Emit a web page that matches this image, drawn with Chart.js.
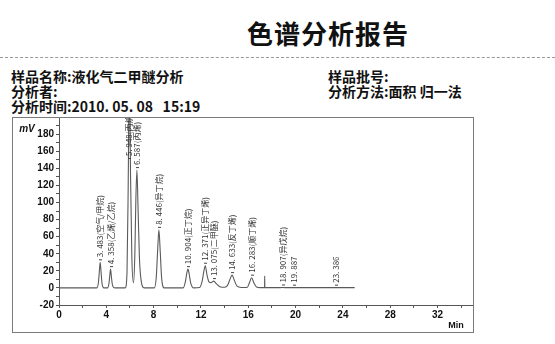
<!DOCTYPE html>
<html>
<head>
<meta charset="utf-8">
<script src="https://cdn.jsdelivr.net/npm/chart.js@4.4.1/dist/chart.umd.min.js"></script>
<style>
  html, body { margin:0; padding:0; background:#fff; }
  body { width:555px; height:344px; position:relative; overflow:hidden; font-family:"Noto Sans CJK SC", sans-serif; color:#111; }
  .t { position:absolute; white-space:pre; font-weight:bold; font-size:14px; line-height:14px; }
  #title { position:absolute; left:0; width:656px; top:19px; text-align:center; font-size:26px; line-height:28px; font-weight:bold; letter-spacing:1px; }
  #sep { position:absolute; left:0; width:555px; top:57px; border-top:1px dashed #9a9a9a; }
  #frame { position:absolute; left:12px; top:117px; width:462px; height:216px; border:1px solid #7a7a7a; box-sizing:border-box; }
  #c { position:absolute; left:0; top:0; }
</style>
</head>
<body>
<div id="title">色谱分析报告</div>
<div id="sep"></div>
<div class="t" style="left:11px; top:69px;">样品名称:液化气二甲醚分析</div>
<div class="t" style="left:11px; top:84px;">分析者:</div>
<div class="t" style="left:11px; top:99px;">分析时间:2010. 05. 08   15:19</div>
<div class="t" style="left:328px; top:69px;">样品批号:</div>
<div class="t" style="left:328px; top:84px;">分析方法:面积 归一法</div>
<div id="frame"><canvas id="c" width="460" height="214"></canvas></div>
<script>
// ---- data ----
const traceTime = [
  0, 3.2,
  3.33, 3.41, 3.483, 3.56, 3.64, 3.8,
  4.1, 4.22, 4.29, 4.358, 4.43, 4.51, 4.7,
  5.6, 5.75, 5.85, 5.948, 6.05, 6.16, 6.3,
  6.41, 6.5, 6.587, 6.68, 6.8, 6.95, 7.2,
  8.05, 8.22, 8.34, 8.446, 8.56, 8.68, 8.9,
  10.5, 10.68, 10.8, 10.904, 11.01, 11.13, 11.4,
  11.9, 12.12, 12.25, 12.371, 12.5, 12.68, 12.85, 13.075, 13.3, 13.6, 14.0,
  14.25, 14.45, 14.633, 14.82, 15.05, 15.4,
  15.9, 16.1, 16.283, 16.47, 16.7, 17.0,
  17.38, 17.39, 17.4,
  18.5, 18.907, 19.3, 25.0
];
const traceSignal = [
  0, 0,
  6, 19, 30, 18, 5, 0,
  0, 5, 14, 22, 13, 4, 0,
  0, 18, 120, 260, 130, 35, 6,
  38, 105, 138, 95, 35, 8, 0,
  0, 12, 44, 68, 42, 11, 0,
  0, 7, 17, 22, 16, 6, 0,
  0.5, 9, 20, 26, 16, 7, 6, 8, 5, 1.5, 0.8,
  3, 10, 15, 9, 2, 0.5,
  0.5, 6, 12, 6, 1, 0.3,
  0.3, 14, 0.3,
  0.3, 0.5, 0.3, 0.3
];
const peakTimes   = [3.483, 4.358, 5.948, 6.587, 8.446, 10.904, 12.371, 13.075, 14.633, 16.283, 18.907, 19.887, 23.386];
const peakHeights = [30, 22, 260, 138, 68, 22, 26, 8, 15, 12, 0.5, 0.3, 0.3];
const peakNames   = ["3. 483(空气/甲烷)", "4. 358(乙烯/乙烷)", "5. 948(丙烷)", "6. 587(丙烯)", "8. 446(异丁烷)",
                     "10. 904(正丁烷)", "12. 371(正异丁烯)", "13. 075(二甲醚)", "14. 633(反丁烯)", "16. 283(顺丁烯)",
                     "18. 907(异戊烷)", "19. 887", "23. 386"];
const xTickValues = [0, 2, 4, 6, 8, 10, 12, 14, 16, 18, 20, 22, 24, 26, 28, 30, 32, 34];
const xTickLabels = ["0", "", "4", "", "8", "", "12", "", "16", "", "20", "", "24", "", "28", "", "32", ""];
const yTickValues = [-20, -10, 0, 10, 20, 30, 40, 50, 60, 70, 80, 90, 100, 110, 120, 130, 140, 150, 160, 170, 180, 190];
const yTickLabels = ["-20", "", "0", "", "20", "", "40", "", "60", "", "80", "", "100", "", "120", "", "140", "", "160", "", "180", ""];
const yUnit = "mV";
const xUnit = "Min";

const points = traceTime.map((t, i) => ({ x: t, y: traceSignal[i] }));

const annot = {
  id: 'annot',
  afterDatasetsDraw(chart) {
    const { ctx, chartArea, scales: { x, y } } = chart;
    ctx.save();
    ctx.strokeStyle = '#444';
    ctx.lineWidth = 1;
    ctx.fillStyle = '#333';
    ctx.font = '8px "Noto Sans CJK SC"';
    peakTimes.forEach((t, i) => {
      const px = Math.round(x.getPixelForValue(t)) + 0.5;
      let py = y.getPixelForValue(peakHeights[i]);
      py = Math.max(py, chartArea.top + 43);
      ctx.beginPath();
      ctx.moveTo(px - 1.5, py - 2.5);
      ctx.lineTo(px + 1.5, py - 2.5);
      ctx.stroke();
      ctx.save();
      ctx.translate(px - 0.5, py - 5);
      ctx.rotate(-Math.PI / 2);
      ctx.textAlign = 'left';
      ctx.textBaseline = 'middle';
      ctx.fillText(peakNames[i], 0, 0);
      ctx.restore();
    });
    ctx.fillStyle = '#111';
    ctx.font = 'italic bold 10px "Liberation Sans"';
    ctx.textAlign = 'center';
    ctx.textBaseline = 'middle';
    ctx.fillText(yUnit, 14, 11);
    ctx.font = 'bold 9px "Liberation Sans"';
    ctx.fillText(xUnit, 443, 208);
    ctx.restore();
  }
};

new Chart(document.getElementById('c'), {
  type: 'line',
  data: {
    datasets: [{
      data: points,
      borderColor: '#5a5a5a',
      borderWidth: 1.1,
      pointRadius: 0,
      fill: false,
      cubicInterpolationMode: 'monotone'
    }]
  },
  options: {
    responsive: false,
    animation: false,
    devicePixelRatio: 1,
    layout: { padding: 0 },
    plugins: { legend: { display: false }, tooltip: { enabled: false } },
    scales: {
      x: {
        type: 'linear', min: 0, max: 35,
        afterBuildTicks: s => { s.ticks = xTickValues.map(v => ({ value: v })); },
        afterFit: s => { s.height = 27; s.paddingLeft = 0; s.paddingRight = 0; },
        ticks: {
          autoSkip: false, maxRotation: 0, padding: 1, color: '#111',
          font: { family: 'Liberation Sans', size: 10, weight: 'bold' },
          callback: (v, i) => xTickLabels[i]
        },
        grid: { drawOnChartArea: false, drawTicks: true, tickLength: 3, color: '#555' },
        border: { display: true, color: '#555', width: 1 }
      },
      y: {
        type: 'linear', min: -20, max: 199,
        afterBuildTicks: s => { s.ticks = yTickValues.map(v => ({ value: v })); },
        afterFit: s => { s.width = 46; s.paddingTop = 0; s.paddingBottom = 0; },
        ticks: {
          autoSkip: false, padding: 2, color: '#111',
          font: { family: 'Liberation Sans', size: 10, weight: 'bold' },
          callback: (v, i) => yTickLabels[i]
        },
        grid: { drawOnChartArea: false, drawTicks: true, tickLength: 3, color: '#555' },
        border: { display: true, color: '#555', width: 1 }
      }
    }
  },
  plugins: [annot]
});
</script>
</body>
</html>
